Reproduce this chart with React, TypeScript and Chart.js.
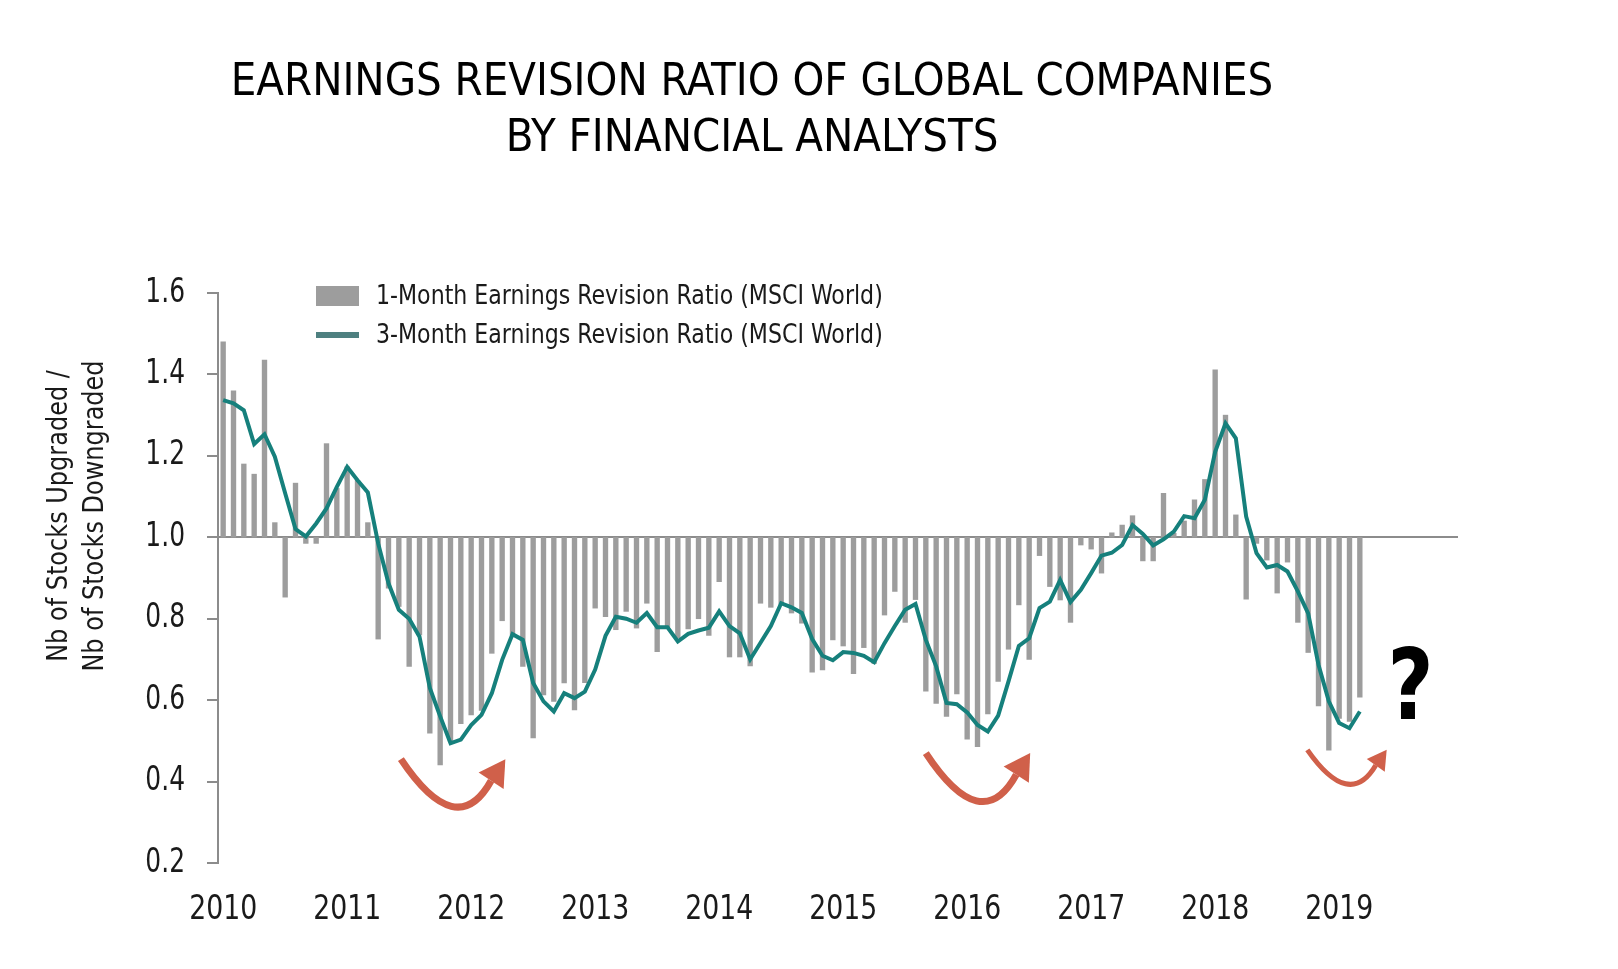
import React, { useEffect, useRef } from "react";
import { Chart, registerables } from "chart.js";

Chart.register(...registerables);

// ---------- data ----------
const YEARS = ["2010", "2011", "2012", "2013", "2014", "2015", "2016", "2017", "2018", "2019"];

// 1-Month Earnings Revision Ratio (MSCI World), monthly from Jan 2010 to Mar 2019
const ONE_MONTH = [
  1.48, 1.36, 1.18, 1.155, 1.435, 1.036, 0.853, 1.133, 0.985, 0.985, 1.23, 1.12,
  1.173, 1.14, 1.036, 0.75, 0.875, 0.83, 0.683, 0.76, 0.519, 0.441, 0.5, 0.542,
  0.564, 0.575, 0.715, 0.795, 0.76, 0.683, 0.507, 0.613, 0.597, 0.642, 0.576, 0.643,
  0.826, 0.805, 0.773, 0.818, 0.777, 0.838, 0.719, 0.78, 0.752, 0.775, 0.8, 0.759,
  0.891, 0.706, 0.706, 0.684, 0.838, 0.828, 0.835, 0.814, 0.789, 0.669, 0.674, 0.748,
  0.733, 0.665, 0.729, 0.69, 0.809, 0.867, 0.791, 0.847, 0.622, 0.592, 0.56, 0.615,
  0.504, 0.486, 0.566, 0.646, 0.725, 0.834, 0.7, 0.955, 0.879, 0.846, 0.791, 0.981,
  0.971, 0.912, 1.011, 1.03, 1.053, 0.942, 0.942, 1.108, 1.01, 1.04, 1.092, 1.142,
  1.411, 1.3, 1.055, 0.848, 0.985, 0.944, 0.863, 0.939, 0.791, 0.717, 0.586, 0.477,
  0.555, 0.548, 0.607,
];

// 3-Month Earnings Revision Ratio (MSCI World)
const THREE_MONTH = [
  1.337, 1.329, 1.312, 1.229, 1.253, 1.198, 1.108, 1.02, 1.002, 1.034, 1.071, 1.124,
  1.173, 1.14, 1.11, 0.985, 0.887, 0.822, 0.8, 0.756, 0.63, 0.56, 0.494, 0.503,
  0.539, 0.564, 0.617, 0.699, 0.762, 0.748, 0.642, 0.597, 0.572, 0.617, 0.605, 0.621,
  0.675, 0.758, 0.805, 0.8, 0.79, 0.814, 0.779, 0.779, 0.744, 0.763, 0.771, 0.778,
  0.818, 0.782, 0.764, 0.7, 0.741, 0.782, 0.838, 0.828, 0.814, 0.75, 0.709, 0.698,
  0.718, 0.716, 0.709, 0.693, 0.74, 0.782, 0.822, 0.836, 0.748, 0.683, 0.593, 0.59,
  0.57, 0.539, 0.523, 0.562, 0.646, 0.733, 0.752, 0.826, 0.842, 0.895, 0.841, 0.871,
  0.912, 0.955, 0.962, 0.981, 1.03, 1.008, 0.98, 0.995, 1.014, 1.052, 1.047, 1.092,
  1.21, 1.28, 1.243, 1.051, 0.961, 0.926, 0.932, 0.916, 0.867, 0.813, 0.687, 0.597,
  0.544, 0.531, 0.572,
];

const BASELINE = 1.0;
const Y_MIN = 0.2;
const Y_MAX = 1.6;
const Y_STEP = 0.2;

const TITLE_LINES = ["EARNINGS REVISION RATIO OF GLOBAL COMPANIES", "BY FINANCIAL ANALYSTS"];
const Y_TITLE_LINES = ["Nb of Stocks Upgraded /", "Nb of Stocks Downgraded"];
const LEGEND_LABELS = [
  "1-Month Earnings Revision Ratio (MSCI World)",
  "3-Month Earnings Revision Ratio (MSCI World)",
];
const QUESTION = "?";

// arrow annotations: [start, control, end-of-shaft, tip] as [monthIndex, value]
const ARROWS = [
  { pts: [[17.2, 0.455], [22.6, 0.25], [25.93, 0.402], [27.31, 0.455]], w: 7, head: 15 },
  { pts: [[68.0, 0.47], [73.4, 0.262], [76.75, 0.417], [78.1, 0.47]], w: 7, head: 15 },
  { pts: [[104.92, 0.478], [108.99, 0.33], [111.54, 0.44], [112.6, 0.478]], w: 5, head: 11 },
];
const QUESTION_POS = [114.9, 0.615];

// ---------- styles ----------
const FONT = "'Liberation Sans Narrow', 'Arial Narrow', 'DejaVu Sans Condensed', Roboto, sans-serif";
const BAR_COLOR = "#9d9d9d";
const LINE_COLOR = "#16807c";
const LEGEND_LINE_COLOR = "#4e8080";
const AXIS_COLOR = "#8c8c8c";
const ARROW_COLOR = "#d0604a";
const TEXT_COLOR = "#1a1a1a";

const W = 1618;
const H = 969;

function narrowText(
  ctx: CanvasRenderingContext2D,
  text: string,
  x: number,
  y: number,
  sx: number
) {
  ctx.save();
  ctx.translate(x, y);
  ctx.scale(sx, 1);
  ctx.fillText(text, 0, 0);
  ctx.restore();
}

const overlayPlugin = {
  id: "overlay",
  afterDraw(chart: any) {
    const ctx = chart.ctx as CanvasRenderingContext2D;
    const xs = chart.scales.x;
    const ys = chart.scales.y;
    ctx.save();

    // title
    ctx.fillStyle = "#000";
    ctx.font = `45px ${FONT}`;
    ctx.textAlign = "center";
    ctx.textBaseline = "alphabetic";
    narrowText(ctx, TITLE_LINES[0], 752, 95, 1.0);
    narrowText(ctx, TITLE_LINES[1], 752, 151, 1.0);

    // y tick labels
    ctx.fillStyle = TEXT_COLOR;
    ctx.font = `33px ${FONT}`;
    ctx.textAlign = "right";
    ctx.textBaseline = "middle";
    ys.ticks.forEach((t: any, i: number) => {
      const py = ys.getPixelForTick(i);
      narrowText(ctx, Number(t.value).toFixed(1), ys.right - 11 - 22, py, 0.84);
    });

    // x tick labels
    ctx.textAlign = "center";
    ctx.textBaseline = "middle";
    xs.ticks.forEach((t: any, i: number) => {
      const lbl = xs.getLabelForValue(t.value);
      if (!lbl) return;
      narrowText(ctx, lbl, xs.getPixelForTick(i), xs.top + 47, 0.9);
    });

    // y axis title (rotated)
    ctx.save();
    ctx.fillStyle = TEXT_COLOR;
    ctx.font = `29px ${FONT}`;
    ctx.translate(0, 516);
    ctx.rotate(-Math.PI / 2);
    ctx.textAlign = "center";
    ctx.textBaseline = "middle";
    narrowText(ctx, Y_TITLE_LINES[0], 0, 59, 0.92);
    narrowText(ctx, Y_TITLE_LINES[1], 0, 95, 0.92);
    ctx.restore();

    // legend
    ctx.fillStyle = BAR_COLOR;
    ctx.fillRect(316, 286, 43, 20);
    ctx.strokeStyle = LEGEND_LINE_COLOR;
    ctx.lineWidth = 6;
    ctx.beginPath();
    ctx.moveTo(316, 335);
    ctx.lineTo(359, 335);
    ctx.stroke();
    ctx.fillStyle = TEXT_COLOR;
    ctx.font = `26px ${FONT}`;
    ctx.textAlign = "left";
    ctx.textBaseline = "middle";
    narrowText(ctx, LEGEND_LABELS[0], 376, 297, 0.945);
    narrowText(ctx, LEGEND_LABELS[1], 376, 336, 0.945);

    // arrows
    for (const a of ARROWS) {
      const p = a.pts.map(([i, v]) => [xs.getPixelForValue(i), ys.getPixelForValue(v)]);
      ctx.strokeStyle = ARROW_COLOR;
      ctx.fillStyle = ARROW_COLOR;
      ctx.lineWidth = a.w;
      ctx.lineCap = "butt";
      ctx.beginPath();
      ctx.moveTo(p[0][0], p[0][1]);
      ctx.quadraticCurveTo(p[1][0], p[1][1], p[2][0], p[2][1]);
      ctx.stroke();
      const dx = p[3][0] - p[2][0];
      const dy = p[3][1] - p[2][1];
      const len = Math.hypot(dx, dy);
      const nx = -dy / len;
      const ny = dx / len;
      ctx.beginPath();
      ctx.moveTo(p[3][0], p[3][1]);
      ctx.lineTo(p[2][0] + nx * a.head, p[2][1] + ny * a.head);
      ctx.lineTo(p[2][0] - nx * a.head, p[2][1] - ny * a.head);
      ctx.closePath();
      ctx.fill();
    }

    // question mark
    ctx.fillStyle = "#000";
    ctx.font = `bold 98px ${FONT}`;
    ctx.textAlign = "center";
    ctx.textBaseline = "middle";
    narrowText(ctx, QUESTION, xs.getPixelForValue(QUESTION_POS[0]), ys.getPixelForValue(QUESTION_POS[1]), 0.9);

    ctx.restore();
  },
};

export default function App() {
  const ref = useRef<HTMLCanvasElement | null>(null);

  useEffect(() => {
    document.body.style.margin = "0";
    const canvas = ref.current;
    if (!canvas) return;

    const labels = YEARS.flatMap((y) => Array.from({ length: 12 }, (_, m) => (m === 0 ? y : "")));

    const chart = new Chart(canvas, {
      type: "bar",
      data: {
        labels,
        datasets: [
          {
            type: "line",
            label: LEGEND_LABELS[1],
            data: THREE_MONTH,
            borderColor: LINE_COLOR,
            borderWidth: 4,
            pointRadius: 0,
            tension: 0,
            order: 0,
          } as any,
          {
            type: "bar",
            label: LEGEND_LABELS[0],
            data: ONE_MONTH.map((v) => [BASELINE, v]),
            backgroundColor: BAR_COLOR,
            barThickness: 4.7,
            order: 1,
          } as any,
        ],
      },
      options: {
        responsive: false,
        animation: false,
        devicePixelRatio: 1,
        layout: { padding: { left: 0, top: 293, right: 160, bottom: 0 } },
        plugins: {
          legend: { display: false },
          title: { display: false },
          tooltip: { enabled: false },
        },
        scales: {
          x: {
            type: "category",
            grid: { display: false, drawTicks: false },
            border: { display: false },
            ticks: {
              display: false,
              autoSkip: false,
              maxRotation: 0,
              minRotation: 0,
            },
            afterFit: (s: any) => {
              s.height = 106;
            },
          },
          y: {
            type: "linear",
            min: Y_MIN,
            max: Y_MAX,
            ticks: {
              display: false,
              stepSize: Y_STEP,
            },
            grid: {
              drawOnChartArea: true,
              drawTicks: true,
              tickLength: 11,
              tickWidth: 2,
              tickColor: AXIS_COLOR,
              lineWidth: 2,
              color: (c: any) => (c.tick && Math.abs(c.tick.value - BASELINE) < 1e-9 ? AXIS_COLOR : "rgba(0,0,0,0)"),
            },
            border: { display: true, color: AXIS_COLOR, width: 2 },
            afterFit: (s: any) => {
              s.width = 218;
            },
          },
        },
      },
      plugins: [overlayPlugin],
    });

    return () => chart.destroy();
  }, []);

  return (
    <div style={{ position: "relative", width: W, height: H, background: "#fff" }}>
      <canvas ref={ref} width={W} height={H} style={{ display: "block", width: W, height: H }} />
    </div>
  );
}
